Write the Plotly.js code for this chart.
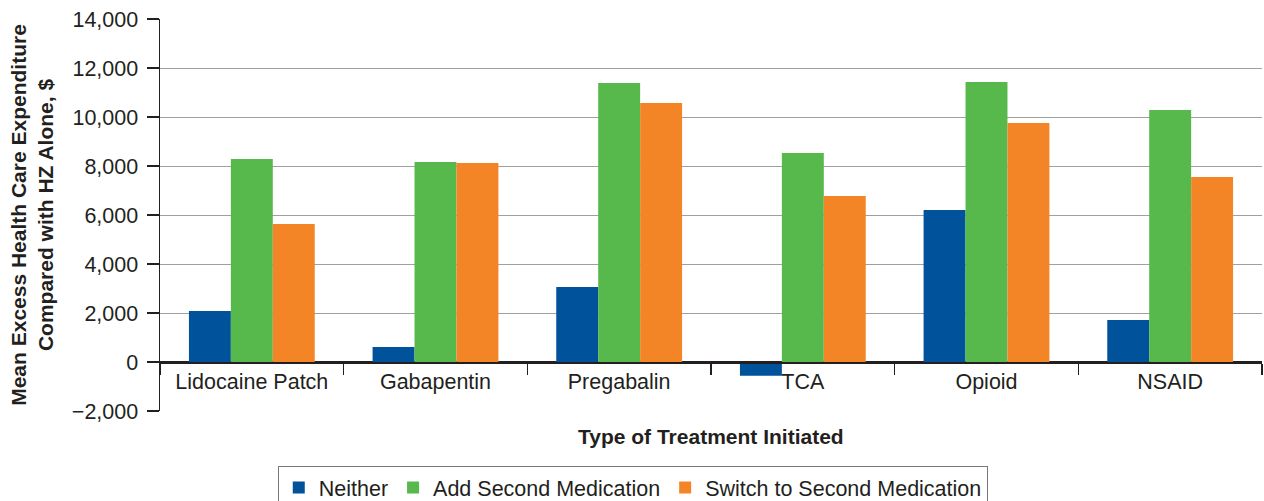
<!DOCTYPE html>
<html>
<head>
<meta charset="utf-8">
<script src="https://cdn.plot.ly/plotly-3.0.1.min.js"></script>
<style>html,body{margin:0;padding:0;background:#fff;}#chart{width:1264px;height:501px;}</style>
</head>
<body>
<div id="chart"></div>
<script>
const categories = ["Lidocaine Patch", "Gabapentin", "Pregabalin", "TCA", "Opioid", "NSAID"];
const neither = [2080, 610, 3060, -560, 6200, 1710];
const addSecond = [8290, 8160, 11390, 8530, 11430, 10290];
const switchSecond = [5630, 8120, 10570, 6780, 9760, 7550];
const seriesNames = ["Neither", "Add Second Medication", "Switch to Second Medication"];
const yTicks = [-2000, 0, 2000, 4000, 6000, 8000, 10000, 12000, 14000];

const colors = ["#00529b", "#57b84b", "#f38527"];
const data = [neither, addSecond, switchSecond].map((vals, i) => ({
  type: "bar",
  x: categories,
  y: vals,
  name: seriesNames[i],
  marker: {color: colors[i], line: {width: 0}},
  hoverinfo: "x+y+name"
}));

const font = "Liberation Sans, Arial, sans-serif";
const layout = {
  width: 1264, height: 501,
  margin: {l: 160, r: 2, t: 19, b: 90, autoexpand: false},
  paper_bgcolor: "#fff", plot_bgcolor: "#fff",
  barmode: "group",
  bargap: 0.315,
  bargroupgap: 0,
  showlegend: true,
  font: {family: font, color: "#231f20", size: 22},
  xaxis: {
    anchor: "free",
    position: 0.125,
    showgrid: false,
    showline: true,
    linecolor: "#231f20",
    linewidth: 1.5,
    ticks: "outside",
    tickson: "boundaries",
    ticklen: 11,
    tickwidth: 1.2,
    tickcolor: "#231f20",
    tickfont: {family: font, size: 21.5, color: "#231f20"},
    zeroline: false,
    automargin: false
  },
  yaxis: {
    range: [-2000, 14000],
    tickvals: yTicks,
    tickformat: ",",
    showgrid: true,
    gridcolor: "#a0a0a0",
    gridwidth: 1,
    zeroline: true,
    zerolinecolor: "#231f20",
    zerolinewidth: 1.5,
    showline: true,
    linecolor: "#231f20",
    linewidth: 1.5,
    ticks: "outside",
    ticklen: 12,
    tickwidth: 1.2,
    tickcolor: "#231f20",
    ticklabelstandoff: 4,
    tickfont: {family: font, size: 21.5, color: "#231f20"},
    automargin: false,
    title: {
      text: "<b>Mean Excess Health Care Expenditure<br>Compared with HZ Alone, $</b>",
      font: {family: font, size: 21, color: "#231f20"},
      standoff: 12
    }
  },
  legend: {
    orientation: "h",
    x: 0.429, xanchor: "center",
    y: -0.1405, yanchor: "top",
    bordercolor: "#777",
    borderwidth: 1,
    bgcolor: "#fff",
    font: {family: font, size: 21.5, color: "#231f20"},
    traceorder: "normal",
    itemwidth: 30
  },
  annotations: [{
    text: "<b>Type of Treatment Initiated</b>",
    xref: "paper", yref: "paper",
    x: 0.5, y: -0.064, xanchor: "center", yanchor: "middle",
    showarrow: false,
    font: {family: font, size: 21, color: "#231f20"}
  }]
};

Plotly.newPlot("chart", data, layout, {displayModeBar: false, staticPlot: true});
</script>
</body>
</html>
